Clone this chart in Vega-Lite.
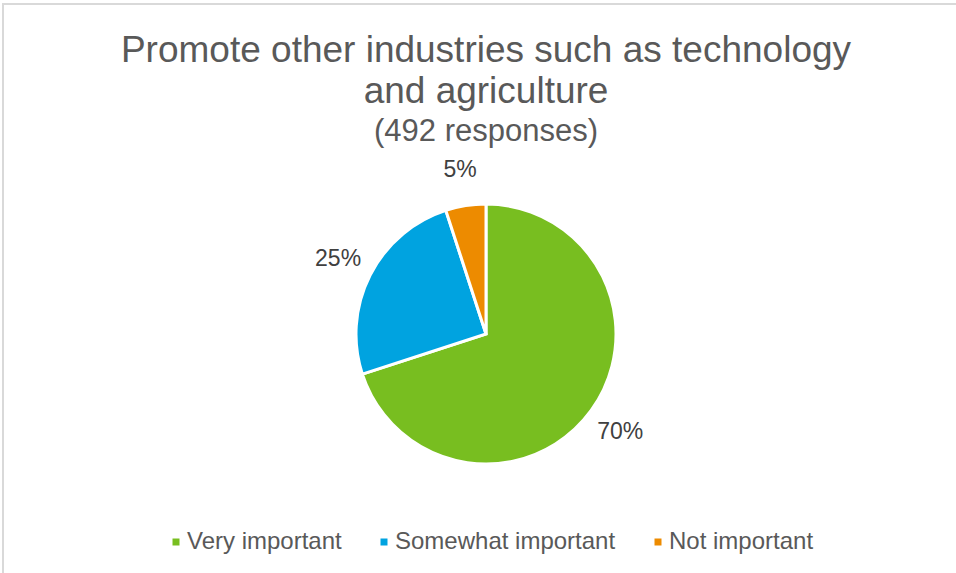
{
  "$schema": "https://vega.github.io/schema/vega-lite/v6.json",
  "autosize": "none",
  "padding": {"left": 3, "top": 4, "right": 0, "bottom": 0},
  "width": 966,
  "height": 660,
  "background": "white",
  "config": {
    "font": "Liberation Sans"
  },
  "view": {"stroke": "#d9d9d9", "strokeWidth": 2},
  "title": {
    "text": ["Promote other industries such as technology", "and agriculture"],
    "subtitle": "(492 responses)",
    "orient": "top",
    "anchor": "middle",
    "frame": "group",
    "offset": -144,
    "fontSize": 37,
    "fontWeight": "normal",
    "lineHeight": 41,
    "color": "#595959",
    "subtitleFontSize": 31,
    "subtitleColor": "#595959",
    "subtitlePadding": 6
  },
  "data": {
    "values": [
      {"category": "Very important", "share": 70, "label": "70%", "rank": 1},
      {"category": "Somewhat important", "share": 25, "label": "25%", "rank": 2},
      {"category": "Not important", "share": 5, "label": "5%", "rank": 3}
    ]
  },
  "encoding": {
    "theta": {"field": "share", "type": "quantitative", "stack": true},
    "order": {"field": "rank", "type": "ordinal"}
  },
  "layer": [
    {
      "mark": {"type": "arc", "outerRadius": 130, "stroke": "white", "strokeWidth": 3},
      "encoding": {
        "color": {
          "field": "category",
          "type": "nominal",
          "scale": {
            "domain": ["Very important", "Somewhat important", "Not important"],
            "range": ["#78BE20", "#00A3E0", "#ED8B00"]
          },
          "legend": {
            "title": null,
            "orient": "none",
            "direction": "horizontal",
            "legendX": 161,
            "legendY": 526,
            "symbolType": "square",
            "symbolSize": 49,
            "symbolStrokeWidth": 0,
            "labelFontSize": 24,
            "labelColor": "#595959",
            "labelOffset": -1,
            "columnPadding": 30,
            "labelLimit": 400
          }
        }
      }
    },
    {
      "mark": {"type": "text", "radius": 166, "fontSize": 23, "color": "#404040"},
      "encoding": {
        "text": {"field": "label", "type": "nominal"}
      }
    }
  ]
}
